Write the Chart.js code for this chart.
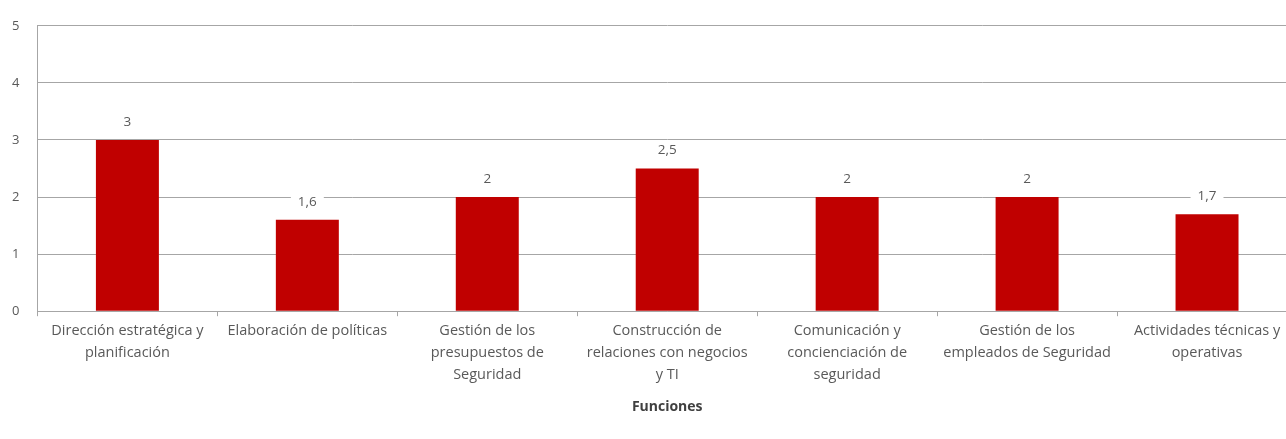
<!DOCTYPE html>
<html>
<head>
<meta charset="utf-8">
<script src="https://cdn.jsdelivr.net/npm/chart.js@4"></script>
<style>
  html, body { margin: 0; padding: 0; background: #fff; overflow: hidden; }
  #wrap { position: relative; width: 1300px; height: 439px; }
</style>
</head>
<body>
<div id="wrap"><canvas id="chart"></canvas></div>
<script>
// Categories (multi-line labels as shown in the reference)
const categories = [
  ['Dirección estratégica y', 'planificación'],
  ['Elaboración de políticas'],
  ['Gestión de los', 'presupuestos de', 'Seguridad'],
  ['Construcción de', 'relaciones con negocios', 'y TI'],
  ['Comunicación y', 'concienciación de', 'seguridad'],
  ['Gestión de los', 'empleados de Seguridad'],
  ['Actividades técnicas y', 'operativas']
];
const values = [3, 1.6, 2, 2.5, 2, 2, 1.7];
const yTicks = [0, 1, 2, 3, 4, 5];
const xTitle = 'Funciones';

const FONT = "'Open Sans', sans-serif";
const TEXT = '#595959';
const GRID = '#a6a6a6';

// Value labels above bars, with a white box that hides the gridline behind them
const valueLabels = {
  id: 'valueLabels',
  afterDatasetsDraw(chart) {
    const ctx = chart.ctx;
    const meta = chart.getDatasetMeta(0);
    ctx.save();
    ctx.font = '13.5px ' + FONT;
    ctx.textAlign = 'center';
    ctx.textBaseline = 'middle';
    meta.data.forEach((bar, i) => {
      const txt = String(values[i]).replace('.', ',');
      const w = ctx.measureText(txt).width + 14;
      const y = bar.y - 18;
      ctx.fillStyle = '#fff';
      ctx.fillRect(bar.x - w / 2, y - 8, w, 16);
      ctx.fillStyle = TEXT;
      ctx.fillText(txt, bar.x, y);
    });
    ctx.restore();
  }
};

new Chart(document.getElementById('chart'), {
  type: 'bar',
  data: {
    labels: categories,
    datasets: [{
      data: values,
      backgroundColor: '#c00000',
      borderWidth: 0,
      barPercentage: 0.35,
      categoryPercentage: 1
    }]
  },
  options: {
    responsive: true,
    maintainAspectRatio: false,
    animation: false,
    layout: { padding: { top: 20, right: 3, left: -6, bottom: 24 } },
    plugins: {
      legend: { display: false },
      tooltip: { enabled: false }
    },
    scales: {
      x: {
        grid: {
          drawOnChartArea: false,
          drawTicks: true,
          tickLength: 5,
          color: GRID
        },
        border: { color: GRID },
        ticks: {
          color: TEXT,
          font: { family: FONT, size: 14.5, lineHeight: '22px' },
          maxRotation: 0,
          autoSkip: false,
          padding: 4
        },
        title: {
          display: true,
          text: xTitle,
          color: '#404040',
          font: { family: FONT, size: 14, weight: 'bold' },
          padding: { top: 8, bottom: 0 }
        }
      },
      y: {
        min: 0,
        max: 5,
        afterBuildTicks(axis) { axis.ticks = yTicks.map(v => ({ value: v })); },
        grid: { color: GRID, drawTicks: false },
        border: { color: GRID },
        ticks: {
          color: TEXT,
          font: { family: FONT, size: 13 },
          padding: 18
        }
      }
    }
  },
  plugins: [valueLabels]
});
</script>
</body>
</html>
